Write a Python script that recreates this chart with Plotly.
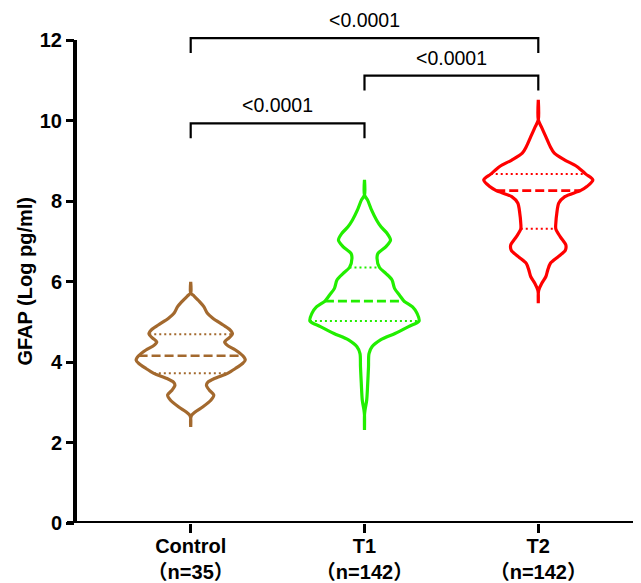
import numpy as np
import plotly.graph_objects as go

# ---------------- data ----------------
groups = ["Control", "T1", "T2"]
group_n = ["（n=35）", "（n=142）", "（n=142）"]
colors = ["#A3692E", "#22EE00", "#FF0000"]

# violin density profiles: level (Log pg/ml) and relative density
control_y = [5.995, 5.72, 5.66, 5.50, 5.37, 5.21, 5.09, 4.92, 4.80, 4.70, 4.60, 4.50, 4.42,
             4.30, 4.155, 4.05, 3.97, 3.84, 3.72, 3.59, 3.50, 3.425, 3.30, 3.18, 3.05,
             2.89, 2.76, 2.68, 2.60, 2.39]
control_d = [0, 0, 2.5, 9, 13.5, 17, 22.5, 33, 40, 42.5, 39, 34.5, 37,
             45.5, 53, 55.5, 53, 45.5, 37.5, 24, 17.5, 16, 19, 23.5, 20.5,
             12.5, 4.5, 1, 0, 0]

t1_y = [8.525, 8.15, 8.03, 7.78, 7.53, 7.36, 7.20, 7.03, 6.87, 6.70, 6.58, 6.35, 6.20,
        6.04, 5.83, 5.66, 5.515, 5.37, 5.21, 5.02, 4.88, 4.71, 4.55, 4.38, 4.21,
        3.88, 3.47, 3.05, 2.80, 2.68, 2.31]
t1_d = [0, 0, 3, 7, 12, 16.5, 22.5, 26, 21.5, 13.5, 12.5, 15, 21.5,
        27.5, 30, 35, 39.5, 48, 52.5, 54.5, 44, 30.5, 16, 7.5, 4.5,
        4, 3.2, 2.2, 0.5, 0, 0]

t2_y = [10.515, 10.02, 9.85, 9.60, 9.35, 9.19, 9.02, 8.86, 8.67, 8.525, 8.36, 8.26, 8.11,
        7.95, 7.70, 7.45, 7.31, 7.11, 6.91, 6.78, 6.62, 6.45, 6.29, 6.12, 5.96,
        5.79, 5.70, 5.46]
t2_d = [0, 0, 3, 7.5, 12, 16, 26.5, 38.5, 47.5, 54.5, 48.5, 42, 26.5,
        20.5, 18.5, 17.5, 17.5, 22, 27.5, 27, 20, 12, 9.5, 7.5, 3.5,
        0.5, 0, 0]

q1_vals = [3.72, 5.02, 7.31]
median_vals = [4.155, 5.515, 8.26]
q3_vals = [4.69, 6.35, 8.67]

# significance comparisons
cmp_left = [0, 1, 0]
cmp_right = [1, 2, 2]
cmp_level = [9.93, 11.12, 12.05]
cmp_label = ["<0.0001", "<0.0001", "<0.0001"]

y_ticks = [0, 2, 4, 6, 8, 10, 12]
y_title = "GFAP (Log pg/ml)"

# ---------------- figure ----------------
FONT = "Liberation Sans, Arial, Noto Sans CJK SC, sans-serif"
HALF = 0.314      # max half width of a violin in category units
DROP = 0.37       # bracket leg length
PAGE_OFFSET = 8   # default body margin of the html page

W, H = 641 - PAGE_OFFSET, 583 - PAGE_OFFSET
L, B, T = 75 - PAGE_OFFSET, 60.3, 12.2
PLOT_W = W - L
X_RANGE = [-0.6657, 2.591]
Y_RANGE = [0, 12.5]

profiles = [(control_y, control_d), (t1_y, t1_d), (t2_y, t2_d)]

fig = go.Figure()
for i, ((ys, ds), col) in enumerate(zip(profiles, colors)):
    ys = np.array(ys, dtype=float)
    d = np.array(ds, dtype=float)
    d = d / d.max() * HALF
    x_out = np.concatenate([i + d, (i - d)[::-1]])
    y_out = np.concatenate([ys, ys[::-1]])
    fig.add_trace(go.Scatter(x=x_out, y=y_out, mode="lines",
                             line=dict(color=col, width=3.2, shape="spline", smoothing=0.8),
                             hoverinfo="skip", showlegend=False))
    for val, dash, lw in [(q1_vals[i], "2px,3px", 2), (median_vals[i], "9px,4px", 2.6),
                          (q3_vals[i], "2px,3px", 2)]:
        hw = float(np.interp(val, ys[::-1], d[::-1]))
        fig.add_trace(go.Scatter(x=[i - hw, i + hw], y=[val, val], mode="lines",
                                 line=dict(color=col, width=lw, dash=dash),
                                 hoverinfo="skip", showlegend=False))

annotations = []
for l, r, lvl, lab in zip(cmp_left, cmp_right, cmp_level, cmp_label):
    fig.add_trace(go.Scatter(x=[l, l, r, r], y=[lvl - DROP, lvl, lvl, lvl - DROP],
                             mode="lines", line=dict(color="black", width=2.2),
                             hoverinfo="skip", showlegend=False))
    annotations.append(dict(x=(l + r) / 2, y=lvl, xref="x", yref="y", text=lab.replace("<", "&lt;"),
                            showarrow=False, yanchor="middle", yshift=18,
                            font=dict(family=FONT, size=19.5, color="black")))

annotations.append(dict(x=-50 / PLOT_W, y=6, xref="paper", yref="y", text=y_title, textangle=-90,
                        showarrow=False, xanchor="center", yanchor="middle",
                        font=dict(family=FONT, size=20, color="black", weight="bold")))

shapes = [
    dict(type="line", xref="paper", yref="y", x0=0, x1=0, y0=0, y1=12,
         line=dict(color="black", width=4)),
    dict(type="line", xref="paper", yref="y", x0=-8 / PLOT_W, x1=1, y0=0, y1=0,
         line=dict(color="black", width=4)),
]

fig.update_layout(
    width=W, height=H,
    margin=dict(l=L, r=0, t=T, b=B, autoexpand=False),
    paper_bgcolor="white", plot_bgcolor="white",
    showlegend=False,
    annotations=annotations,
    shapes=shapes,
    xaxis=dict(range=X_RANGE, tickvals=[0, 1, 2], automargin=False,
               ticktext=[f"{g}<br>{n}" for g, n in zip(groups, group_n)],
               showline=False, showgrid=False, zeroline=False,
               ticks="outside", ticklen=9, tickwidth=3, tickcolor="black",
               ticklabelstandoff=-4,
               tickfont=dict(family=FONT, size=20, color="black", weight="bold")),
    yaxis=dict(range=Y_RANGE, tickvals=y_ticks, ticktext=[str(t) for t in y_ticks],
               automargin=False,
               showline=False, showgrid=False, zeroline=False,
               ticks="outside", ticklen=8, tickwidth=3, tickcolor="black",
               tickfont=dict(family=FONT, size=20, color="black", weight="bold")),
)

fig.write_html("out.html")
